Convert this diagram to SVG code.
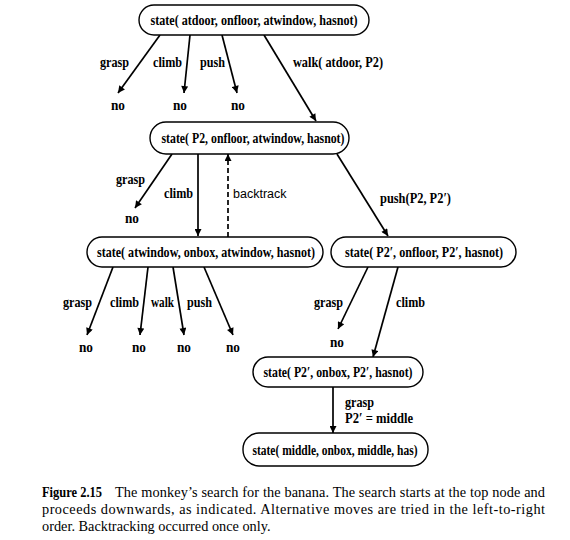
<svg xmlns="http://www.w3.org/2000/svg" width="570" height="540" viewBox="0 0 570 540">
<defs>
<marker id="ah" viewBox="0 0 10 10" refX="10" refY="5" markerWidth="10" markerHeight="7" markerUnits="userSpaceOnUse" orient="auto">
<path d="M0,0 L10,5 L0,10 Z" fill="#000"/>
</marker>
</defs>
<style>
.node rect{fill:#fff;stroke:#000;stroke-width:1.4}
.nt{font-family:"Liberation Serif","Times New Roman",serif;font-weight:bold;font-size:14.5px;text-anchor:middle}
.lb{font-family:"Liberation Serif","Times New Roman",serif;font-weight:bold;font-size:14px}
.lbn{font-family:"Liberation Sans",Arial,sans-serif;font-size:12.5px}
.edge{stroke:#000;stroke-width:1.7;fill:none;marker-end:url(#ah)}
.dash{stroke-dasharray:5,3}
.cap{font-family:"Liberation Serif","Times New Roman",serif;font-size:14.3px}
</style>
<rect width="570" height="540" fill="#fff"/>
<g id="connectors">
<path class="edge" d="M160,35 L118,93"/>
<path class="edge" d="M190,35 L184,93"/>
<path class="edge" d="M222,35 L237,93"/>
<path class="edge" d="M264,35 L316,121"/>
<path class="edge" d="M172,154 L135,208"/>
<path class="edge" d="M198,154 L198,236"/>
<path class="edge dash" d="M228,237 L228,154"/>
<path class="edge" d="M337,154 L388,236"/>
<path class="edge" d="M113,267 L87,335"/>
<path class="edge" d="M148,267 L140,335"/>
<path class="edge" d="M173,267 L184,335"/>
<path class="edge" d="M204,267 L233,335"/>
<path class="edge" d="M368,267 L338,329"/>
<path class="edge" d="M398,267 L373,357"/>
<path class="edge" d="M333,387 L333,433"/>
</g>
<g id="labels">
<text class="lb" x="100" y="67" textLength="29" lengthAdjust="spacingAndGlyphs">grasp</text>
<text class="lb" x="153" y="67" textLength="29" lengthAdjust="spacingAndGlyphs">climb</text>
<text class="lb" x="200" y="67" textLength="25" lengthAdjust="spacingAndGlyphs">push</text>
<text class="lb" x="293" y="67" textLength="90" lengthAdjust="spacingAndGlyphs">walk( atdoor, P2)</text>
<text class="lb" x="111" y="110" textLength="14" lengthAdjust="spacingAndGlyphs">no</text>
<text class="lb" x="173" y="110" textLength="14" lengthAdjust="spacingAndGlyphs">no</text>
<text class="lb" x="231" y="110" textLength="14" lengthAdjust="spacingAndGlyphs">no</text>
<text class="lb" x="116" y="184" textLength="29" lengthAdjust="spacingAndGlyphs">grasp</text>
<text class="lb" x="125" y="223" textLength="14" lengthAdjust="spacingAndGlyphs">no</text>
<text class="lb" x="164" y="198" textLength="29" lengthAdjust="spacingAndGlyphs">climb</text>
<text class="lbn" x="233" y="198">backtrack</text>
<text class="lb" x="380" y="203" textLength="71" lengthAdjust="spacingAndGlyphs">push(P2, P2′)</text>
<text class="lb" x="63" y="307" textLength="29" lengthAdjust="spacingAndGlyphs">grasp</text>
<text class="lb" x="110" y="307" textLength="29" lengthAdjust="spacingAndGlyphs">climb</text>
<text class="lb" x="151" y="307" textLength="23" lengthAdjust="spacingAndGlyphs">walk</text>
<text class="lb" x="187" y="307" textLength="25" lengthAdjust="spacingAndGlyphs">push</text>
<text class="lb" x="79" y="352" textLength="14" lengthAdjust="spacingAndGlyphs">no</text>
<text class="lb" x="132" y="352" textLength="14" lengthAdjust="spacingAndGlyphs">no</text>
<text class="lb" x="177" y="352" textLength="14" lengthAdjust="spacingAndGlyphs">no</text>
<text class="lb" x="226" y="352" textLength="14" lengthAdjust="spacingAndGlyphs">no</text>
<text class="lb" x="314" y="307" textLength="29" lengthAdjust="spacingAndGlyphs">grasp</text>
<text class="lb" x="396" y="307" textLength="29" lengthAdjust="spacingAndGlyphs">climb</text>
<text class="lb" x="330" y="347" textLength="14" lengthAdjust="spacingAndGlyphs">no</text>
<text class="lb" x="345" y="407" textLength="29" lengthAdjust="spacingAndGlyphs">grasp</text>
<text class="lb" x="345" y="423" textLength="68" lengthAdjust="spacingAndGlyphs">P2′ = middle</text>
</g>
<g id="n1" class="node">
<rect x="139" y="5" width="230" height="30" rx="15"/>
<text class="nt" x="254" y="25" textLength="207" lengthAdjust="spacingAndGlyphs">state( atdoor, onfloor, atwindow, hasnot)</text>
</g>
<g id="n2" class="node">
<rect x="150" y="122" width="199" height="32" rx="16"/>
<text class="nt" x="253" y="143" textLength="183" lengthAdjust="spacingAndGlyphs">state( P2, onfloor, atwindow, hasnot)</text>
</g>
<g id="n3" class="node">
<rect x="87" y="237" width="236" height="30" rx="15"/>
<text class="nt" x="206" y="257" textLength="218" lengthAdjust="spacingAndGlyphs">state( atwindow, onbox, atwindow, hasnot)</text>
</g>
<g id="n4" class="node">
<rect x="331" y="237" width="185" height="30" rx="15"/>
<text class="nt" x="424" y="257" textLength="158" lengthAdjust="spacingAndGlyphs">state( P2′, onfloor, P2′, hasnot)</text>
</g>
<g id="n5" class="node">
<rect x="253" y="357" width="170" height="30" rx="15"/>
<text class="nt" x="338" y="377" textLength="149" lengthAdjust="spacingAndGlyphs">state( P2′, onbox, P2′, hasnot)</text>
</g>
<g id="n6" class="node">
<rect x="243" y="433" width="185" height="33" rx="16"/>
<text class="nt" x="335" y="455" textLength="165" lengthAdjust="spacingAndGlyphs">state( middle, onbox, middle, has)</text>
</g>
<g id="caption">
<text class="cap" x="42" y="497" font-weight="bold" textLength="60" lengthAdjust="spacingAndGlyphs">Figure 2.15</text>
<text class="cap" x="115" y="497" textLength="430" lengthAdjust="spacing">The monkey’s search for the banana. The search starts at the top node and</text>
<text class="cap" x="42" y="514" textLength="503" lengthAdjust="spacing">proceeds downwards, as indicated. Alternative moves are tried in the left-to-right</text>
<text class="cap" x="42" y="531">order. Backtracking occurred once only.</text>
</g>
</svg>
